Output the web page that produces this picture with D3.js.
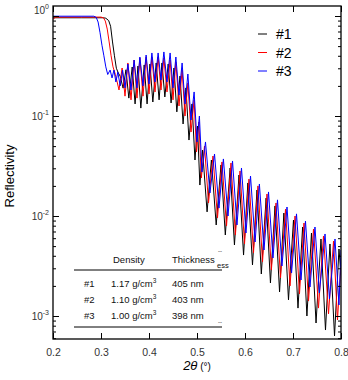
<!DOCTYPE html>
<html>
<head>
<meta charset="utf-8">
<script src="https://cdn.jsdelivr.net/npm/d3@7"></script>
<style>
  body { margin: 0; background: #fff; }
  svg { font-family: "Liberation Sans", Arial, sans-serif; }
</style>
</head>
<body>
<svg id="svg" width="348" height="380"></svg>
<script>
// reflectivity curves: [2theta, R]
const series1 = [[0.200,0.96],[0.260,0.96],[0.305,0.96],[0.310,0.95],[0.316,0.90],[0.320,0.79],[0.324,0.55],[0.328,0.40],[0.332,0.30],[0.336,0.27],[0.340,0.25],
  [0.346,0.19],[0.352,0.29],[0.358,0.151],[0.365,0.309],[0.371,0.132],[0.377,0.316],[0.383,0.120],[0.390,0.324],[0.396,0.132],[0.402,0.331],[0.408,0.138],[0.415,0.339],[0.421,0.145],[0.427,0.339],[0.433,0.155],[0.440,0.331],
  [0.446,0.135],[0.452,0.302],[0.458,0.110],[0.4646,0.251],[0.471,0.0832],[0.477,0.191],[0.4833,0.0575],[0.4896,0.132],[0.4958,0.0363],[0.501,0.0794],[0.506,0.0204],[0.5115,0.0457],[0.521,0.0110],[0.530,0.0363],[0.540,0.00813],[0.550,0.0324],[0.559,0.00646],[0.569,0.0302],[0.578,0.00513],[0.5875,0.0257],[0.597,0.00407],[0.606,0.0214],[0.6156,0.00324],[0.625,0.0182],[0.634,0.00263],[0.644,0.0151],[0.653,0.00214],[0.6625,0.0126],[0.672,0.00174],[0.681,0.0107],[0.6906,0.00145],[0.701,0.00912],[0.7104,0.00120],[0.720,0.00776],[0.729,0.00100],[0.7385,0.00676],[0.748,0.000851],[0.7583,0.00589],[0.7677,0.000724],[0.777,0.00525],[0.7865,0.000631],[0.7958,0.00468],[0.800,0.00257]]

const series2 = [[0.200,0.93],[0.206,0.975],[0.260,0.975],[0.300,0.975],[0.305,0.96],[0.309,0.89],[0.313,0.74],[0.317,0.55],[0.321,0.40],[0.325,0.31],[0.330,0.26],
  [0.3375,0.182],[0.344,0.302],[0.350,0.158],[0.356,0.339],[0.3625,0.145],[0.369,0.363],[0.375,0.151],[0.381,0.380],[0.3875,0.158],[0.394,0.389],[0.400,0.166],[0.406,0.389],[0.4125,0.174],[0.419,0.389],[0.425,0.182],[0.431,0.380],[0.4375,0.174],[0.444,0.363],[0.450,0.145],[0.456,0.347],[0.4625,0.126],
  [0.469,0.288],[0.475,0.100],[0.481,0.214],[0.4875,0.0692],[0.494,0.145],[0.499,0.0437],[0.504,0.0871],[0.509,0.0240],[0.5156,0.0501],[0.524,0.0135],[0.5333,0.0398],[0.5427,0.00955],[0.552,0.0347],[0.5615,0.00794],[0.5708,0.0339],[0.580,0.00646],[0.5896,0.0282],[0.599,0.00525],[0.6083,0.0234],[0.6177,0.00427],[0.627,0.0200],[0.6365,0.00347],[0.6458,0.0166],[0.655,0.00288],[0.6646,0.0135],[0.674,0.00240],[0.6844,0.0117],[0.6938,0.00200],[0.7042,0.0100],[0.7135,0.00166],[0.7229,0.00851],[0.7323,0.00141],[0.7427,0.00741],[0.7531,0.00120],[0.7635,0.00631],[0.774,0.00105],[0.7844,0.00562],[0.7927,0.000912],[0.800,0.00347]]

const series3 = [[0.200,0.995],[0.285,0.995],[0.290,0.97],[0.294,0.87],[0.298,0.68],[0.302,0.51],[0.306,0.40],[0.310,0.31],[0.314,0.26],
  [0.319,0.288],[0.323,0.24],[0.327,0.288],[0.331,0.219],[0.335,0.275],[0.340,0.200],[0.345,0.288],[0.350,0.191],[0.356,0.331],[0.3625,0.182],[0.369,0.363],[0.375,0.191],[0.381,0.389],[0.3875,0.200],[0.394,0.407],[0.400,0.209],[0.406,0.427],[0.4125,0.219],[0.419,0.427],[0.425,0.229],[0.431,0.437],[0.4375,0.219],[0.444,0.427],[0.450,0.191],[0.456,0.389],[0.4625,0.162],[0.469,0.339],[0.475,0.132],
  [0.481,0.263],[0.4875,0.0912],[0.494,0.174],[0.500,0.0550],[0.505,0.100],[0.5104,0.0275],[0.5177,0.0550],[0.527,0.0170],[0.5365,0.0417],[0.5458,0.0120],[0.555,0.0372],[0.5646,0.0100],[0.574,0.0355],[0.5833,0.00813],[0.5927,0.0302],[0.602,0.00676],[0.6115,0.0251],[0.621,0.00550],[0.630,0.0209],[0.6396,0.00457],[0.649,0.0174],[0.6583,0.00380],[0.6677,0.0145],[0.677,0.00316],[0.6875,0.0123],[0.697,0.00269],[0.7073,0.0105],[0.7167,0.00229],[0.726,0.00891],[0.7354,0.00195],[0.7458,0.00776],[0.755,0.00170],[0.7667,0.00661],[0.776,0.00148],[0.7875,0.00589],[0.7958,0.00129],[0.800,0.00457]]

const seriesNames = ['#1', '#2', '#3']
const seriesColors = ['#000000', '#ff0000', '#0000ff']

const xTicks = [0.2, 0.3, 0.4, 0.5, 0.6, 0.7, 0.8]
const yTicks = [1, 0.1, 0.01, 0.001]
const yTickExp = ['0', '-1', '-2', '-3']

// sample table
const tableHeader = ['Density', 'Thickness']
const tableDensity = ['1.17', '1.10', '1.00']
const tableThickness = ['405 nm', '403 nm', '398 nm']

const svg = d3.select('#svg')
const pL = 53, pR = 341, pT = 6, pB = 339

const x = d3.scaleLinear().domain([0.2, 0.8]).range([pL, pR])
const y = d3.scaleLog().domain([Math.pow(10, -3.23), Math.pow(10, 0.1)]).range([pB, pT])

svg.append('clipPath').attr('id', 'clip')
  .append('rect').attr('x', pL).attr('y', pT).attr('width', pR - pL).attr('height', pB - pT)

const line = d3.line().x(d => x(d[0])).y(d => y(d[1]))
const plot = svg.append('g').attr('clip-path', 'url(#clip)')
;[series1, series2, series3].forEach((s, i) => {
  plot.append('path')
    .datum(s)
    .attr('d', line)
    .attr('fill', 'none')
    .attr('stroke', seriesColors[i])
    .attr('stroke-width', 1)
})

// minor log ticks
const yMinor = y.ticks(40).filter(v => !yTicks.some(t => Math.abs(t - v) / t < 1e-6))

function noDomain(g) { g.select('.domain').remove(); g.selectAll('line').attr('stroke', '#000').attr('stroke-width', 1) }

svg.append('g').attr('transform', `translate(0,${pB})`)
  .call(d3.axisBottom(x).tickValues(xTicks).tickSize(-6).tickPadding(10).tickFormat(d3.format('.1f')))
  .call(noDomain)
  .call(g => g.selectAll('text').attr('font-size', 10.5).attr('fill', '#333').attr('font-family', '"Liberation Sans", Arial, sans-serif'))
svg.append('g').attr('transform', `translate(0,${pT})`)
  .call(d3.axisTop(x).tickValues(xTicks).tickSize(-6).tickFormat(''))
  .call(noDomain)

svg.append('g').attr('transform', `translate(${pL},0)`)
  .call(d3.axisLeft(y).tickValues(yTicks).tickSize(-6).tickFormat(''))
  .call(noDomain)
svg.append('g').attr('transform', `translate(${pL},0)`)
  .call(d3.axisLeft(y).tickValues(yMinor).tickSize(-3).tickFormat(''))
  .call(noDomain)
svg.append('g').attr('transform', `translate(${pR},0)`)
  .call(d3.axisRight(y).tickValues(yTicks).tickSize(-6).tickFormat(''))
  .call(noDomain)
svg.append('g').attr('transform', `translate(${pR},0)`)
  .call(d3.axisRight(y).tickValues(yMinor).tickSize(-3).tickFormat(''))
  .call(noDomain)

yTicks.forEach((v, i) => {
  const t = svg.append('text')
    .attr('x', 49)
    .attr('y', y(v) + 3.5 - (i === 0 ? 6 : 0))
    .attr('text-anchor', 'end')
    .attr('font-size', 10)
    .attr('fill', '#333')
  t.append('tspan').text('10')
  t.append('tspan').attr('dy', -4.5).attr('font-size', 7).text(yTickExp[i])
})

svg.append('rect')
  .attr('x', pL).attr('y', pT).attr('width', pR - pL).attr('height', pB - pT)
  .attr('fill', 'none').attr('stroke', '#000').attr('stroke-width', 1.3)

// axis titles
svg.append('text')
  .attr('transform', 'translate(14,176) rotate(-90)')
  .attr('text-anchor', 'middle')
  .attr('font-size', 13)
  .text('Reflectivity')

const xt = svg.append('text').attr('x', 197).attr('y', 370).attr('text-anchor', 'middle').attr('font-size', 13)
xt.append('tspan').attr('font-style', 'italic').text('2θ')
xt.append('tspan').attr('font-size', 10).text(' (°)')

// legend
seriesNames.forEach((n, i) => {
  const ly = 34 + i * 18.5
  svg.append('line').attr('x1', 258).attr('x2', 267).attr('y1', ly).attr('y2', ly)
    .attr('stroke', seriesColors[i]).attr('stroke-width', 1)
  svg.append('text').attr('x', 276).attr('y', ly + 5).attr('font-size', 14).text(n)
})

// table
const tb = svg.append('g').attr('font-size', 9.5).attr('fill', '#111')
tb.append('text').attr('x', 113).attr('y', 263).text(tableHeader[0])
tb.append('text').attr('x', 172).attr('y', 263).text(tableHeader[1])
tb.append('text').attr('x', 217).attr('y', 268).attr('font-size', 7.5).text('ess')
tb.append('text').attr('x', 218).attr('y', 253).attr('font-size', 6).text('--')
tb.append('text').attr('x', 218).attr('y', 324).attr('font-size', 6).text('--')
tb.append('line').attr('x1', 74).attr('x2', 222).attr('y1', 270).attr('y2', 270).attr('stroke', '#000')
tb.append('line').attr('x1', 74).attr('x2', 222).attr('y1', 327).attr('y2', 327).attr('stroke', '#000')
seriesNames.forEach((n, i) => {
  const ry = 287 + i * 16.2
  tb.append('text').attr('x', 84).attr('y', ry).text(n)
  const d = tb.append('text').attr('x', 111).attr('y', ry)
  d.append('tspan').text(tableDensity[i] + ' g/cm')
  d.append('tspan').attr('dy', -4).attr('font-size', 6.5).text('3')
  tb.append('text').attr('x', 172).attr('y', ry).text(tableThickness[i])
})
</script>
</body>
</html>
